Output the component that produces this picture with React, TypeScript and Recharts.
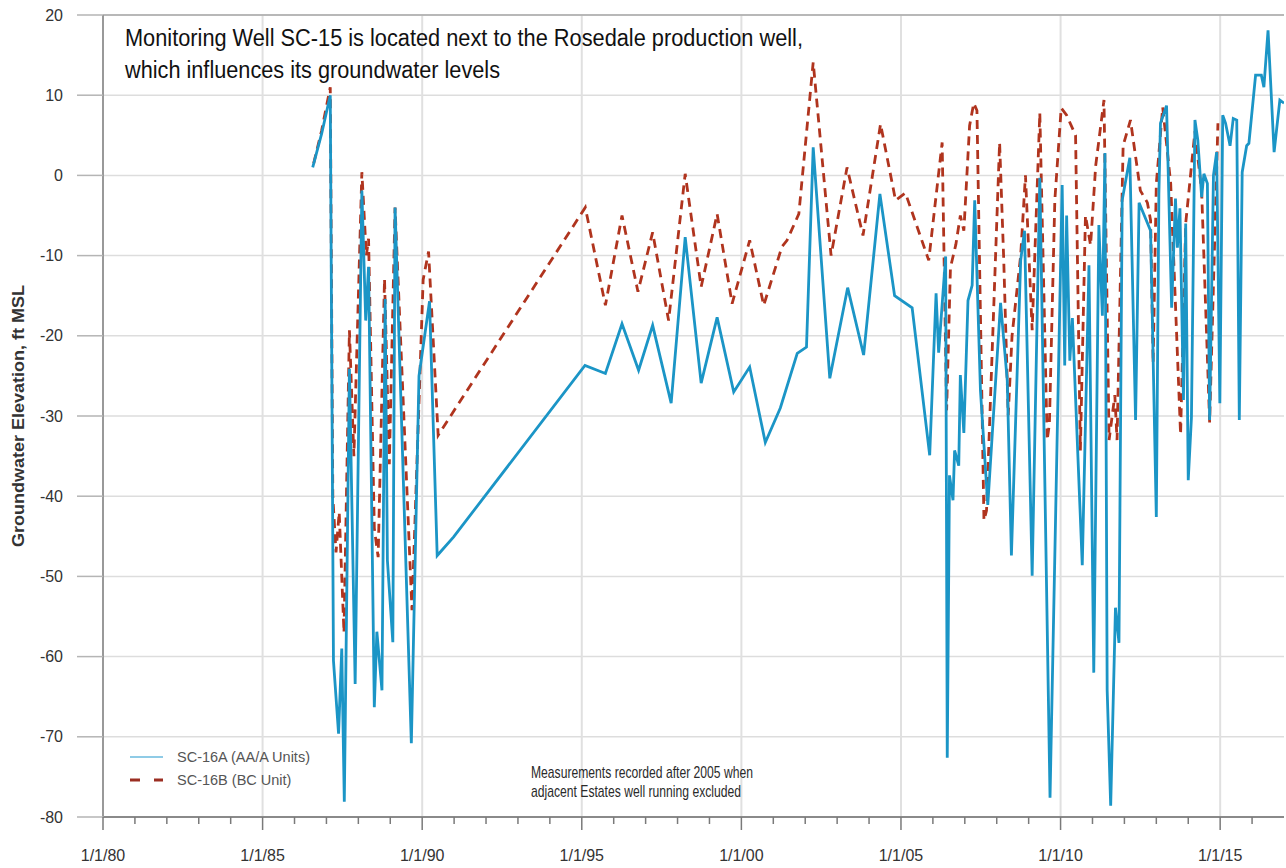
import React from "react";
import {
  LineChart,
  Line,
  XAxis,
  YAxis,
  CartesianGrid,
  ReferenceLine,
  Legend,
} from "recharts";

// axis ticks
const yearTicks = [
  1980, 1981, 1982, 1983, 1984, 1985, 1986, 1987, 1988, 1989, 1990, 1991, 1992,
  1993, 1994, 1995, 1996, 1997, 1998, 1999, 2000, 2001, 2002, 2003, 2004, 2005,
  2006, 2007, 2008, 2009, 2010, 2011, 2012, 2013, 2014, 2015, 2016,
];
const gridYears = [1985, 1990, 1995, 2000, 2005, 2010, 2015];
const levelTicks = [-80, -70, -60, -50, -40, -30, -20, -10, 0, 10, 20];

// SC-16A (AA/A Units), decimal year -> ft MSL
const sc16aDates = [
  1986.57, 1986.85, 1987.12, 1987.22, 1987.38, 1987.48, 1987.56, 1987.72, 1987.9,
  1988.11, 1988.23, 1988.32, 1988.5, 1988.58, 1988.74, 1988.84, 1988.91, 1989.08,
  1989.15, 1989.66, 1989.9, 1990.23, 1990.47, 1990.98, 1995.1, 1995.74, 1996.26,
  1996.78, 1997.22, 1997.8, 1998.24, 1998.74, 1999.24, 1999.76, 2000.26, 2000.75,
  2001.22, 2001.75, 2002.04, 2002.25, 2002.77, 2003.33, 2003.83, 2004.34, 2004.8,
  2005.35, 2005.9, 2006.1, 2006.18, 2006.4, 2006.45, 2006.52, 2006.63, 2006.68,
  2006.81, 2006.86, 2006.97, 2007.1, 2007.23, 2007.31, 2007.49, 2007.72, 2008.12,
  2008.33, 2008.46, 2008.75, 2008.87, 2009.11, 2009.35, 2009.67, 2010.05, 2010.13,
  2010.19, 2010.29, 2010.37, 2010.68, 2010.89, 2011.04, 2011.2, 2011.31, 2011.39,
  2011.46, 2011.57, 2011.72, 2011.83, 2011.93, 2012.17, 2012.35, 2012.46, 2012.82,
  2013.0, 2013.08, 2013.13, 2013.32, 2013.48, 2013.6, 2013.66, 2013.74, 2013.85,
  2013.92, 2014.0, 2014.1, 2014.21, 2014.3, 2014.42, 2014.49, 2014.6, 2014.67,
  2014.79, 2014.89, 2014.99, 2015.08, 2015.17, 2015.31, 2015.41, 2015.52, 2015.6,
  2015.69, 2015.83, 2015.9, 2016.11, 2016.29, 2016.37, 2016.5, 2016.69, 2016.87,
  2017.0,
];
const sc16aLevels = [
  1.0, 5.2, 10.0, -60.5, -69.6, -59.0, -78.1, -24.1, -63.4,
  -1.9, -18.1, -11.4, -66.3, -56.9, -64.2, -15.4, -48.0, -58.2,
  -4.0, -70.8, -25.0, -15.7, -47.4, -45.1, -23.7, -24.7, -18.5,
  -24.3, -18.7, -28.4, -7.7, -25.9, -17.7, -27.0, -23.9, -33.3,
  -29.0, -22.2, -21.4, 3.5, -25.3, -14.0, -22.4, -2.3, -15.0,
  -16.5, -34.9, -14.7, -22.1, -10.1, -72.6, -37.4, -40.5, -34.3,
  -36.2, -24.9, -32.1, -15.6, -13.7, -3.1, -26.8, -41.1, -15.9,
  -25.6, -47.4, -10.6, -6.9, -49.9, -0.3, -77.6, -1.2, -23.7,
  -5.0, -23.1, -17.8, -48.6, -11.2, -62.0, -6.2, -17.5, 2.8,
  -64.2, -78.6, -53.9, -58.3, -3.1, 2.2, -30.5, -3.4, -6.9,
  -42.6, -2.3, 6.5, 8.7, -16.5, -2.9, -9.0, -4.1, -28.0,
  -6.0, -38.0, -30.2, 6.9, 4.4, -2.7, 0.2, -1.0, -30.5,
  0.0, 2.9, -28.4, 7.5, 6.5, 3.7, 7.1, 6.9, -30.5,
  0.4, 3.7, 4.0, 12.5, 12.5, 11.0, 18.1, 2.9, 9.4,
  9.0,
];

// SC-16B (BC Unit)
const sc16bDates = [
  1986.6, 1986.85, 1987.12, 1987.2, 1987.3, 1987.4, 1987.55, 1987.72, 1987.86,
  1988.11, 1988.25, 1988.32, 1988.5, 1988.62, 1988.82, 1988.97, 1989.15, 1989.68,
  1990.03, 1990.2, 1990.5, 1995.11, 1995.74, 1996.26, 1996.76, 1997.22, 1997.72,
  1998.24, 1998.74, 1999.24, 1999.71, 2000.26, 2000.7, 2001.27, 2001.43, 2001.8,
  2002.25, 2002.81, 2003.31, 2003.81, 2004.36, 2004.83, 2005.14, 2005.87, 2006.29,
  2006.43, 2006.55, 2006.72, 2006.86, 2006.97, 2007.15, 2007.28, 2007.38, 2007.6,
  2007.68, 2008.09, 2008.22, 2008.36, 2008.48, 2008.75, 2008.9, 2009.11, 2009.35,
  2009.58, 2009.65, 2009.82, 2010.02, 2010.19, 2010.47, 2010.62, 2010.78, 2010.94,
  2011.1, 2011.36, 2011.52, 2011.7, 2011.77, 2011.96, 2012.19, 2012.5, 2012.72,
  2012.82, 2012.9, 2013.0, 2013.08, 2013.2, 2013.45, 2013.76, 2013.92, 2014.21,
  2014.42, 2014.67, 2014.93,
];
const sc16bLevels = [
  1.5, 5.6, 11.0, -40.0, -47.0, -42.0, -57.0, -19.3, -35.0,
  0.4, -10.0, -7.9, -44.0, -47.6, -12.9, -36.0, -4.0, -54.2,
  -13.0, -9.5, -32.4, -4.0, -16.2, -5.0, -14.5, -7.1, -18.1,
  0.2, -13.9, -4.8, -16.0, -8.1, -16.2, -8.9, -8.1, -4.8,
  14.1, -10.0, 1.0, -7.5, 6.4, -3.1, -2.2, -10.6, 4.1,
  -29.3, -11.5, -8.6, -5.0, -6.9, 6.2, 9.0, 8.1, -43.0,
  -41.8, 4.1, -10.6, -29.9, -20.0, -10.0, 0.0, -19.3, 7.8,
  -33.0, -31.0, -3.1, 8.4, 7.5, 5.0, -34.3, -5.0, -8.7,
  1.2, 9.4, -33.0, -27.4, -33.0, 3.7, 6.9, -1.9, -3.4,
  -5.6, -23.4, -1.0, 2.7, 8.5, -1.0, -32.3, -6.0, 5.5,
  -2.0, -30.8, 6.5,
];

const sc16a = sc16aDates.map((t, i) => ({ t, level: sc16aLevels[i] }));
const sc16b = sc16bDates.map((t, i) => ({ t, level: sc16bLevels[i] }));

const FONT = "'Liberation Sans', Arial, sans-serif";
const NARROW = "'Liberation Sans Narrow', 'Arial Narrow', 'Liberation Sans', Arial, sans-serif";

function YearTick(props: any) {
  const { x, y, payload } = props;
  const yr = payload.value as number;
  const major = yr % 5 === 0;
  return (
    <g>
      <line x1={x} x2={x} y1={y} y2={y + (major ? 13 : 7)} stroke="#7a7a7a" strokeWidth={1.5} />
      {major && (
        <text x={x} y={y + 44} textAnchor="middle" fontSize={16} fontFamily={FONT} fill="#333">
          {`1/1/${String(yr % 100).padStart(2, "0")}`}
        </text>
      )}
    </g>
  );
}

function renderLegend() {
  return (
    <svg width={220} height={50} style={{ display: "block" }}>
      <line x1={10} x2={43} y1={15} y2={15} stroke="#8fcbe6" strokeWidth={2} />
      <text x={57} y={15} dy="0.35em" fontSize={14.5} fontFamily={FONT} fill="#555">
        SC-16A (AA/A Units)
      </text>
      <line x1={10} x2={43} y1={38} y2={38} stroke="#9b2e22" strokeWidth={3} strokeDasharray="10 14" />
      <text x={57} y={38} dy="0.35em" fontSize={14.5} fontFamily={FONT} fill="#555">
        SC-16B (BC Unit)
      </text>
    </svg>
  );
}

export default function App() {
  return (
    <div style={{ position: "absolute", left: 0, top: 0, width: 1286, height: 868, background: "#fff" }}>
      <LineChart width={1286} height={868} margin={{ top: 15, right: 2, bottom: 0, left: 0 }}>
        <CartesianGrid vertical={false} stroke="#dddddd" strokeWidth={1.5} />
        {gridYears.map((yr) => (
          <ReferenceLine key={yr} x={yr} stroke="#e0e0e0" strokeWidth={2} />
        ))}
        <ReferenceLine y={20} stroke="#a8a8a8" strokeWidth={1.5} />
        <XAxis
          dataKey="t"
          type="number"
          domain={[1980, 2017]}
          ticks={yearTicks}
          interval={0}
          tick={<YearTick />}
          tickLine={false}
          tickSize={0}
          tickMargin={0}
          height={51}
          axisLine={{ stroke: "#8a8a8a", strokeWidth: 2 }}
          allowDataOverflow
        />
        <YAxis
          type="number"
          domain={[-80, 20]}
          ticks={levelTicks}
          interval={0}
          width={103}
          tickSize={26}
          tickMargin={14}
          tickLine={{ stroke: "#b5b5b5", strokeWidth: 1.5 }}
          axisLine={{ stroke: "#999", strokeWidth: 2 }}
          tick={{ fontSize: 16, fontFamily: FONT, fill: "#333" }}
        />
        <Legend
          layout="horizontal"
          verticalAlign="middle"
          align="center"
          content={renderLegend}
          wrapperStyle={{ position: "absolute", left: 120, top: 742, width: 220 }}
        />
        <Line
          data={sc16b}
          dataKey="level"
          type="linear"
          stroke="#b0341e"
          strokeWidth={2.8}
          strokeDasharray="9 6"
          dot={false}
          isAnimationActive={false}
        />
        <Line
          data={sc16a}
          dataKey="level"
          type="linear"
          stroke="#1b95c6"
          strokeWidth={2.8}
          dot={false}
          isAnimationActive={false}
        />
      </LineChart>
      <svg
        width={1286}
        height={868}
        style={{ position: "absolute", left: 0, top: 0, pointerEvents: "none" }}
      >
        <text x={125} y={46} fontSize={23} fontFamily={NARROW} fill="#111" textLength={678} lengthAdjust="spacingAndGlyphs">
          Monitoring Well SC-15 is located next to the Rosedale production well,
        </text>
        <text x={125} y={78} fontSize={23} fontFamily={NARROW} fill="#111" textLength={375} lengthAdjust="spacingAndGlyphs">
          which influences its groundwater levels
        </text>
        <text x={531} y={778} fontSize={17} fontFamily={NARROW} fill="#2a2a2a" textLength={222} lengthAdjust="spacingAndGlyphs">
          Measurements recorded after 2005 when
        </text>
        <text x={531} y={797} fontSize={17} fontFamily={NARROW} fill="#2a2a2a" textLength={210} lengthAdjust="spacingAndGlyphs">
          adjacent Estates well running excluded
        </text>
        <text
          transform="translate(24, 416) rotate(-90)"
          textAnchor="middle"
          fontSize={16}
          fontWeight="bold"
          fontFamily={FONT}
          fill="#333"
          textLength={262}
          lengthAdjust="spacingAndGlyphs"
        >
          Groundwater Elevation, ft MSL
        </text>
      </svg>
    </div>
  );
}
